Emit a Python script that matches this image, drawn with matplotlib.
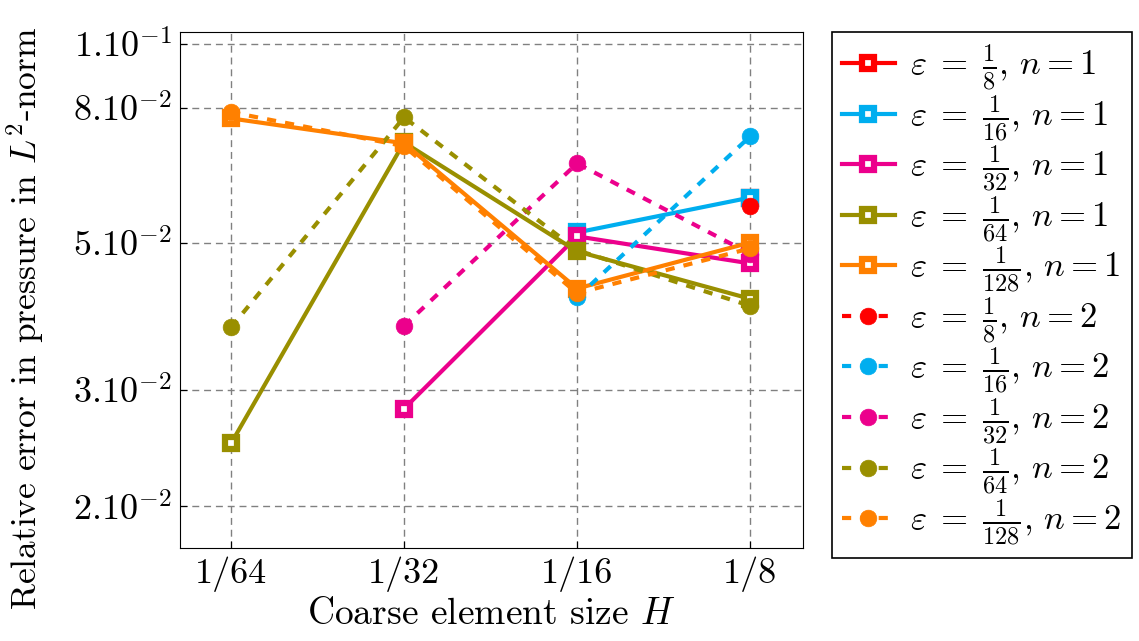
import matplotlib
matplotlib.use("Agg")
import matplotlib.pyplot as plt
import numpy as np

plt.rcParams['font.family'] = 'serif'
plt.rcParams['font.serif'] = ['cmr10', 'DejaVu Serif']
plt.rcParams['mathtext.fontset'] = 'cm'
plt.rcParams['axes.formatter.use_mathtext'] = True

# Coarse element sizes H
H = [1/64, 1/32, 1/16, 1/8]
H_labels = ['1/64', '1/32', '1/16', '1/8']

eps_labels = ['8', '16', '32', '64', '128']
colors = ['#ff0000', '#00aeef', '#ec008c', '#998f00', '#ff8000']

nan = np.nan
# n = 1 (solid, open squares)
err_n1 = {
    '8':   [nan, nan, nan, 0.0585],
    '16':  [nan, nan, 0.0519, 0.0586],
    '32':  [nan, 0.0281, 0.0512, 0.0466],
    '64':  [0.0249, 0.0710, 0.0486, 0.0412],
    '128': [0.0772, 0.0708, 0.0427, 0.0501],
}
# n = 2 (dashed, filled circles)
err_n2 = {
    '8':   [nan, nan, nan, 0.0570],
    '16':  [nan, nan, 0.0414, 0.0725],
    '32':  [nan, 0.0375, 0.0660, 0.0482],
    '64':  [0.0373, 0.0775, 0.0488, 0.0402],
    '128': [0.0789, 0.0701, 0.0420, 0.0491],
}

y_ticks = [0.02, 0.03, 0.05, 0.08, 0.1]
y_tick_labels = [r'$2.10^{-2}$', r'$3.10^{-2}$', r'$5.10^{-2}$', r'$8.10^{-2}$', r'$1.10^{-1}$']

fig = plt.figure(figsize=(11.39, 6.41), dpi=100)
ax = fig.add_axes([180/1139, 1 - 548/641, (803 - 180)/1139, (548 - 32)/641])

for e, c in zip(eps_labels, colors):
    ax.plot(H, err_n1[e], color=c, lw=3, ls='-', marker='s', ms=8.5,
            mfc='white', mec=c, mew=4.5,
            label=r'$\varepsilon\;=\;\frac{1}{%s},\, n=1$' % e)
for e, c in zip(eps_labels, colors):
    ax.plot(H, err_n2[e], color=c, lw=3, ls=(0, (2.2, 2.2)), marker='o', ms=12,
            mfc=c, mec=c, mew=0.5,
            label=r'$\varepsilon\;=\;\frac{1}{%s},\, n=2$' % e)

ax.set_xscale('log', base=2)
ax.set_yscale('log')
ax.set_xlim(2 ** (-6 - 0.295), 2 ** (-3 + 0.306))
ax.set_ylim(0.0173, 0.1043)
ax.set_xticks(H)
ax.set_xticklabels(H_labels)
ax.xaxis.set_minor_locator(matplotlib.ticker.NullLocator())
ax.set_yticks(y_ticks)
ax.set_yticklabels(y_tick_labels)
ax.yaxis.set_minor_locator(matplotlib.ticker.NullLocator())
ax.tick_params(labelsize=26, direction='in', length=5, pad=6)
ax.grid(True, color='gray', ls=(0, (5, 3.5)), lw=1)
ax.set_axisbelow(True)

ax.set_xlabel(r'Coarse element size $H$', fontsize=27, labelpad=4)
ax.set_ylabel(r'Relative error in pressure in $L^2$-norm', fontsize=25.5)
ax.yaxis.set_label_coords(-0.215, 0.445)

leg = fig.legend(loc='upper left', bbox_to_anchor=(832/1139, 1 - 32/641),
                 fontsize=25, fancybox=False, edgecolor='black', framealpha=1,
                 handlelength=1.5, handletextpad=0.45, labelspacing=0.0,
                 borderpad=0.3, borderaxespad=0)
leg.get_frame().set_linewidth(1.2)

fig.savefig('out.png', dpi=100)
